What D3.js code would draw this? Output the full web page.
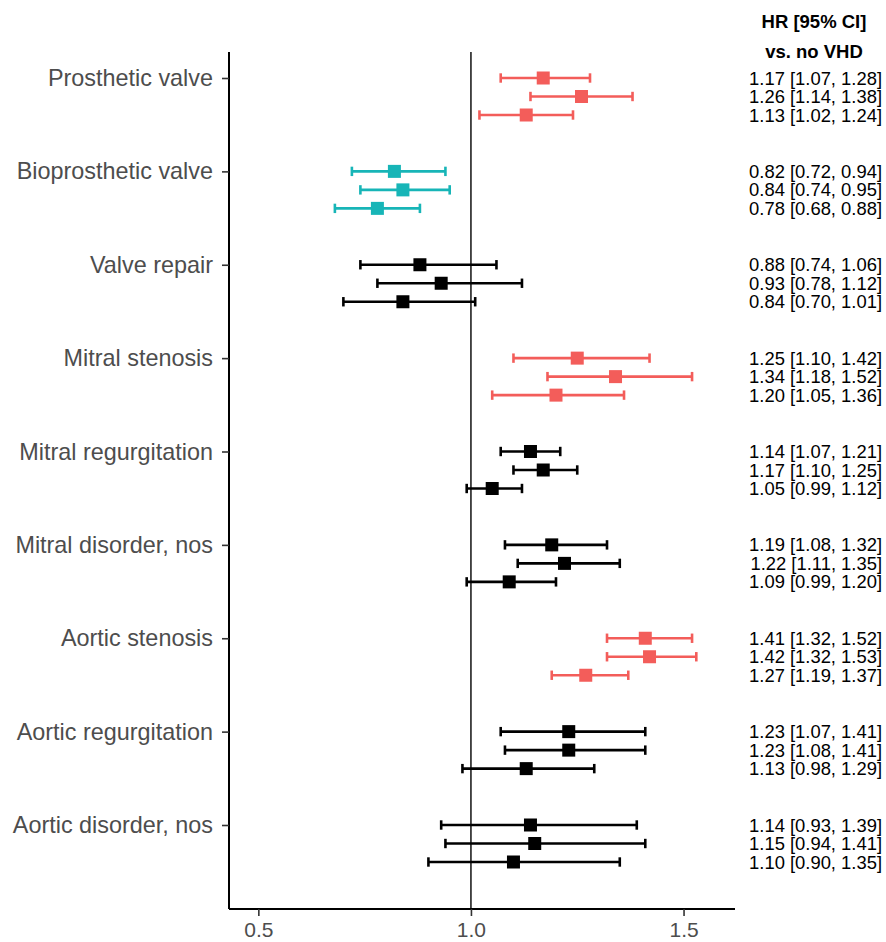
<!DOCTYPE html>
<html>
<head>
<meta charset="utf-8">
<script src="https://cdn.jsdelivr.net/npm/d3@7"></script>
<style>
  body { margin: 0; background: #fff; }
  svg { display: block; font-family: "Liberation Sans", Arial, sans-serif; }
</style>
</head>
<body>
<div id="chart"></div>
<script>
// forest plot: HR vs no VHD, three estimates per valve condition
const categories = [
  'Prosthetic valve', 'Bioprosthetic valve', 'Valve repair', 'Mitral stenosis',
  'Mitral regurgitation', 'Mitral disorder, nos', 'Aortic stenosis',
  'Aortic regurgitation', 'Aortic disorder, nos',
];
const groupType = ['up', 'down', 'ns', 'up', 'ns', 'ns', 'up', 'ns', 'ns'];

const hr = [
  [1.17, 1.26, 1.13], [0.82, 0.84, 0.78], [0.88, 0.93, 0.84],
  [1.25, 1.34, 1.20], [1.14, 1.17, 1.05], [1.19, 1.22, 1.09],
  [1.41, 1.42, 1.27], [1.23, 1.23, 1.13], [1.14, 1.15, 1.10],
];
const lower = [
  [1.07, 1.14, 1.02], [0.72, 0.74, 0.68], [0.74, 0.78, 0.70],
  [1.10, 1.18, 1.05], [1.07, 1.10, 0.99], [1.08, 1.11, 0.99],
  [1.32, 1.32, 1.19], [1.07, 1.08, 0.98], [0.93, 0.94, 0.90],
];
const upper = [
  [1.28, 1.38, 1.24], [0.94, 0.95, 0.88], [1.06, 1.12, 1.01],
  [1.42, 1.52, 1.36], [1.21, 1.25, 1.12], [1.32, 1.35, 1.20],
  [1.52, 1.53, 1.37], [1.41, 1.41, 1.29], [1.39, 1.41, 1.35],
];
const xTicks = [0.5, 1.0, 1.5];

const COLORS = { up: '#f35d5a', down: '#17b5b7', ns: '#000000' };

const W = 886, H = 942;
const margin = { top: 52, right: 151, bottom: 33, left: 229 };
const width = W - margin.left - margin.right;
const height = H - margin.top - margin.bottom;

const rows = [];
categories.forEach((c, i) => {
  hr[i].forEach((v, j) => {
    rows.push({ cat: c, k: j, hr: v, lo: lower[i][j], hi: upper[i][j], type: groupType[i] });
  });
});

const svg = d3.select('#chart').append('svg').attr('width', W).attr('height', H);
const g = svg.append('g').attr('transform', `translate(${margin.left},${margin.top})`);

const x = d3.scaleLinear().domain([0.431, 1.621]).range([0, width]);
const y = d3.scalePoint().domain(categories).range([26, 773]);
const dodge = d3.scalePoint().domain([0, 1, 2]).range([0, 37]);
const rowY = (d) => y(d.cat) + dodge(d.k);

// reference line at HR = 1
g.append('line')
  .attr('x1', x(1)).attr('x2', x(1))
  .attr('y1', 0).attr('y2', height)
  .attr('stroke', '#000').attr('stroke-width', 1.4);

// axes
const yAxis = g.append('g').call(d3.axisLeft(y).tickSize(7).tickPadding(9));
yAxis.select('.domain').attr('stroke-width', 2).attr('d', `M0,0V${height}`);
yAxis.selectAll('.tick line').attr('stroke-width', 1.6).attr('stroke', '#333');
yAxis.selectAll('text').attr('font-size', 23.4).attr('fill', '#4d4d4d')
  .attr('font-family', '"Liberation Sans", Arial, sans-serif');

const xAxis = g.append('g').attr('transform', `translate(0,${height})`)
  .call(d3.axisBottom(x).tickValues(xTicks).tickFormat(d3.format('.1f')).tickSize(7).tickPadding(6));
xAxis.select('.domain').attr('stroke-width', 2).attr('d', `M0,0H${width}`);
xAxis.selectAll('.tick line').attr('stroke-width', 1.6).attr('stroke', '#333');
xAxis.selectAll('text').attr('font-size', 21).attr('fill', '#4d4d4d')
  .attr('font-family', '"Liberation Sans", Arial, sans-serif');

// error bars
const CAP = 4.7;
const bars = g.append('g').selectAll('g').data(rows).join('g')
  .attr('stroke', (d) => COLORS[d.type]).attr('stroke-width', 2.6);
bars.append('line')
  .attr('x1', (d) => x(d.lo)).attr('x2', (d) => x(d.hi))
  .attr('y1', rowY).attr('y2', rowY);
bars.append('line')
  .attr('x1', (d) => x(d.lo)).attr('x2', (d) => x(d.lo))
  .attr('y1', (d) => rowY(d) - CAP).attr('y2', (d) => rowY(d) + CAP);
bars.append('line')
  .attr('x1', (d) => x(d.hi)).attr('x2', (d) => x(d.hi))
  .attr('y1', (d) => rowY(d) - CAP).attr('y2', (d) => rowY(d) + CAP);

const SQ = 13;
g.append('g').selectAll('rect').data(rows).join('rect')
  .attr('x', (d) => x(d.hr) - SQ / 2)
  .attr('y', (d) => rowY(d) - SQ / 2)
  .attr('width', SQ).attr('height', SQ)
  .attr('fill', (d) => COLORS[d.type]);

// HR text column
const fmt = d3.format('.2f');
g.append('g').selectAll('text').data(rows).join('text')
  .attr('x', W - margin.left - 4)
  .attr('y', (d) => rowY(d) + 6.6)
  .attr('text-anchor', 'end')
  .attr('font-size', 18.4)
  .attr('fill', '#000')
  .text((d) => `${fmt(d.hr)} [${fmt(d.lo)}, ${fmt(d.hi)}]`);

const header = svg.append('g').attr('text-anchor', 'middle')
  .attr('font-size', 18.5).attr('font-weight', 'bold');
header.append('text').attr('x', 814).attr('y', 28).text('HR [95% CI]');
header.append('text').attr('x', 814).attr('y', 58).text('vs. no VHD');
</script>
</body>
</html>
